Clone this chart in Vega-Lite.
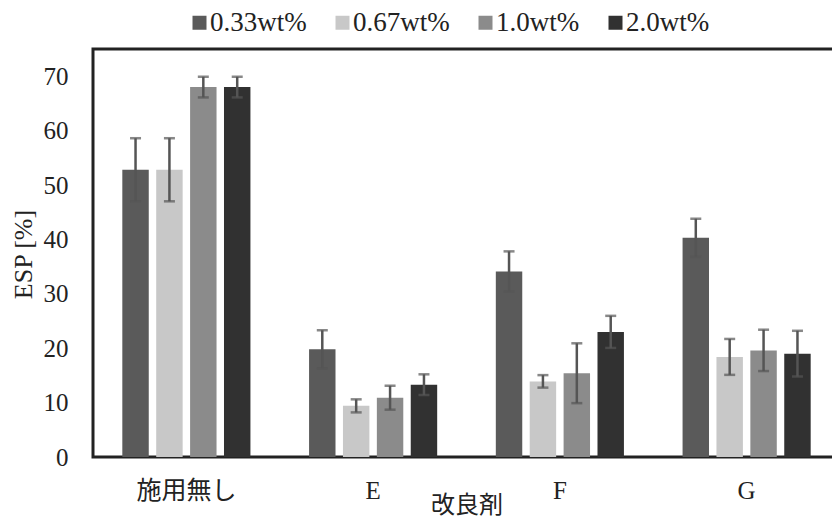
{
  "$schema": "https://vega.github.io/schema/vega-lite/v6.json",
  "autosize": "none",
  "width": 747,
  "height": 408,
  "padding": {"left": 93, "top": 49, "right": 0, "bottom": 63},
  "background": "white",
  "config": {
    "font": "'Liberation Serif', serif",
    "view": {"stroke": "#222222", "strokeWidth": 3},
    "axis": {"labelColor": "#222222", "titleColor": "#222222", "titleFontWeight": "normal"}
  },
  "data": {
    "values": [
      {"agent": "施用無し", "series": "0.33wt%", "esp": 52.8, "lo": 47.0, "hi": 58.6},
      {"agent": "施用無し", "series": "0.67wt%", "esp": 52.8, "lo": 47.0, "hi": 58.6},
      {"agent": "施用無し", "series": "1.0wt%", "esp": 68.0, "lo": 66.1, "hi": 69.9},
      {"agent": "施用無し", "series": "2.0wt%", "esp": 68.0, "lo": 66.1, "hi": 69.9},
      {"agent": "E", "series": "0.33wt%", "esp": 19.8, "lo": 16.3, "hi": 23.3},
      {"agent": "E", "series": "0.67wt%", "esp": 9.4, "lo": 8.2, "hi": 10.6},
      {"agent": "E", "series": "1.0wt%", "esp": 10.9, "lo": 8.7, "hi": 13.1},
      {"agent": "E", "series": "2.0wt%", "esp": 13.3, "lo": 11.4, "hi": 15.2},
      {"agent": "F", "series": "0.33wt%", "esp": 34.1, "lo": 30.4, "hi": 37.8},
      {"agent": "F", "series": "0.67wt%", "esp": 13.9, "lo": 12.75, "hi": 15.05},
      {"agent": "F", "series": "1.0wt%", "esp": 15.4, "lo": 9.9, "hi": 20.9},
      {"agent": "F", "series": "2.0wt%", "esp": 23.0, "lo": 20.05, "hi": 25.95},
      {"agent": "G", "series": "0.33wt%", "esp": 40.3, "lo": 36.8, "hi": 43.8},
      {"agent": "G", "series": "0.67wt%", "esp": 18.4, "lo": 15.1, "hi": 21.7},
      {"agent": "G", "series": "1.0wt%", "esp": 19.6, "lo": 15.8, "hi": 23.4},
      {"agent": "G", "series": "2.0wt%", "esp": 19.0, "lo": 14.8, "hi": 23.2}
    ]
  },
  "encoding": {
    "x": {
      "field": "agent",
      "type": "nominal",
      "sort": ["施用無し", "E", "F", "G"],
      "scale": {"paddingInner": 0.314, "paddingOuter": 0.157},
      "axis": {
        "title": "改良剤",
        "labelAngle": 0,
        "domain": false,
        "ticks": false,
        "labelPadding": 21,
        "labelFont": "'Liberation Serif', 'Noto Sans CJK JP', serif",
        "labelFontSize": 25,
        "titleFont": "'Noto Sans CJK JP', sans-serif",
        "titleFontSize": 24,
        "titleX": 373.5,
        "titleY": 48,
        "titleBaseline": "middle"
      }
    },
    "xOffset": {
      "field": "series",
      "type": "nominal",
      "sort": ["0.33wt%", "0.67wt%", "1.0wt%", "2.0wt%"],
      "scale": {"paddingInner": 0.22, "paddingOuter": 0}
    }
  },
  "layer": [
    {
      "mark": {"type": "bar"},
      "encoding": {
        "y": {
          "field": "esp",
          "type": "quantitative",
          "scale": {"domain": [0, 75], "nice": false},
          "axis": {
            "title": "ESP [%]",
            "values": [0, 10, 20, 30, 40, 50, 60, 70],
            "grid": false,
            "domain": false,
            "ticks": false,
            "labelPadding": 25,
            "labelFont": "'Liberation Serif', serif",
            "labelFontSize": 25,
            "titleFont": "'Liberation Serif', serif",
            "titleFontSize": 26,
            "titleAngle": 270,
            "titleX": -70,
            "titleY": 205,
            "titleAlign": "center",
            "titleBaseline": "middle"
          }
        },
        "color": {
          "field": "series",
          "type": "nominal",
          "scale": {
            "domain": ["0.33wt%", "0.67wt%", "1.0wt%", "2.0wt%"],
            "range": ["#5a5a5a", "#c8c8c8", "#8b8b8b", "#313131"]
          },
          "legend": {
            "title": null,
            "orient": "none",
            "direction": "horizontal",
            "legendX": 93,
            "legendY": -40,
            "symbolType": "square",
            "symbolSize": 196,
            "symbolStrokeWidth": 0,
            "labelFontSize": 27,
            "labelFont": "'Liberation Serif', serif",
            "labelColor": "#222222",
            "labelOffset": -3,
            "columnPadding": 22
          }
        }
      }
    },
    {
      "mark": {"type": "rule", "color": "#555555", "strokeWidth": 2.5},
      "encoding": {
        "y": {"field": "lo", "type": "quantitative"},
        "y2": {"field": "hi"}
      }
    },
    {
      "mark": {"type": "tick", "color": "#555555", "thickness": 2.5, "size": 11, "orient": "horizontal"},
      "encoding": {"y": {"field": "lo", "type": "quantitative"}}
    },
    {
      "mark": {"type": "tick", "color": "#555555", "thickness": 2.5, "size": 11, "orient": "horizontal"},
      "encoding": {"y": {"field": "hi", "type": "quantitative"}}
    }
  ]
}
